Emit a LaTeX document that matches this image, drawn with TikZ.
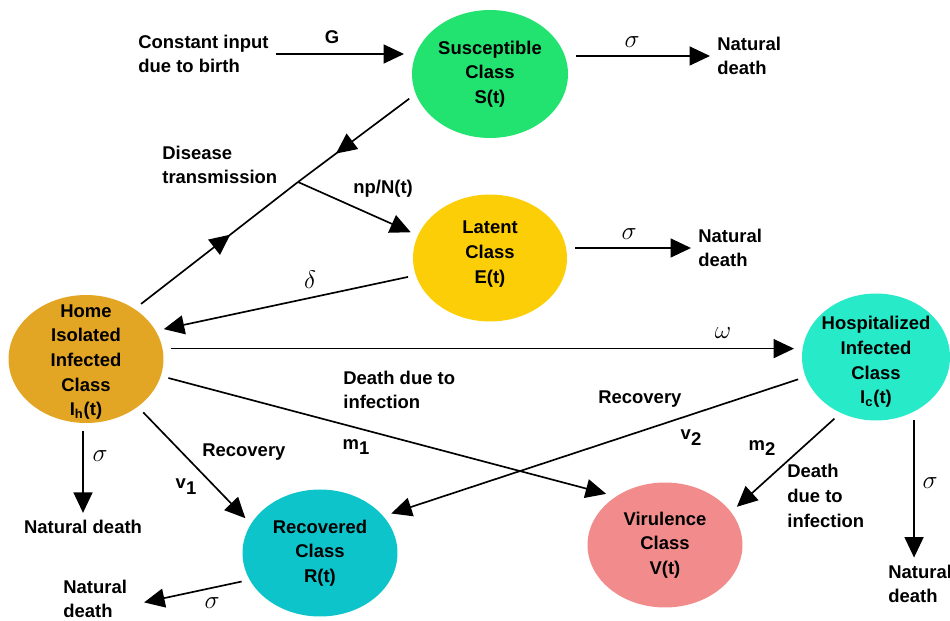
\documentclass[tikz,border=0pt]{standalone}
\usepackage{fontspec}
\setmainfont{Liberation Sans}
\usetikzlibrary{arrows.meta,shapes.geometric,decorations.markings}
\definecolor{cS}{RGB}{34,226,112}
\definecolor{cE}{RGB}{252,206,8}
\definecolor{cIh}{RGB}{226,166,36}
\definecolor{cIc}{RGB}{38,234,200}
\definecolor{cR}{RGB}{12,196,202}
\definecolor{cV}{RGB}{242,140,140}
\newcommand{\lowidx}[1]{\raisebox{-0.6ex}{#1}}
\tikzset{
  compart/.style={ellipse, inner sep=0pt, outer sep=0.16cm},
  inner/.style={align=center, inner sep=0pt},
  txt/.style={align=left, inner sep=4pt},
  greek/.style={font=\fontsize{14.5}{14}\selectfont, inner sep=1pt},
  arr/.style={-{Triangle[length=0.41cm,width=0.38cm]}, line width=0.95pt},
  midarr/.style={line width=0.95pt, decoration={markings,
    mark=at position #1 with {\arrow{Triangle[length=0.41cm,width=0.38cm]}}},
    postaction={decorate}}
}

\begin{document}
\begin{tikzpicture}[x=0.02cm, y=-0.02cm, font=\fontsize{10.5}{14}\selectfont\bfseries]
  \useasboundingbox (0,0) rectangle (950,621);

  % ---- compartments ----
  \node[compart, fill=cS, minimum width=3.12cm, minimum height=2.56cm,
    label={[inner, name=Stext]center:Susceptible\\Class\\S(t)}] (S) at (490,74) {};
  \node[compart, fill=cE, minimum width=3.08cm, minimum height=2.54cm,
    label={[inner, name=Etext, yshift=0.08cm]center:Latent\\Class\\E(t)}] (E) at (490,258) {};
  \node[compart, fill=cIh, minimum width=3.1cm, minimum height=2.56cm,
    label={[inner, name=Ihtext, yshift=-0.06cm]center:Home\\Isolated\\Infected\\Class\\I\textsubscript{h}(t)}] (Ih) at (86,359) {};
  \node[compart, fill=cIc, minimum width=2.96cm, minimum height=2.54cm,
    label={[inner, name=Ictext, yshift=-0.1cm]center:Hospitalized\\Infected\\Class\\I\textsubscript{c}(t)}] (Ic) at (876,357) {};
  \node[compart, fill=cR, minimum width=3.1cm, minimum height=2.54cm,
    label={[inner, name=Rtext]center:Recovered\\Class\\R(t)}] (R) at (320,553) {};
  \node[compart, fill=cV, minimum width=3.1cm, minimum height=2.5cm,
    label={[inner, name=Vtext]center:Virulence\\Class\\V(t)}] (V) at (665,545) {};

  % ---- free texts ----
  \node[txt, anchor=west] (birth) at (131,54) {Constant input\\due to birth};
  \node[txt] (Glbl) at (332,37) {G};
  \node[txt, anchor=west] (nd1) at (710,56) {Natural\\death};
  \node[greek] (sig1) at (632,42) {$\sigma$};
  \node[txt, anchor=west] (nd2) at (691,248) {Natural\\death};
  \node[greek] (sig2) at (629,234) {$\sigma$};
  \node[txt, anchor=west] (trans) at (155,165) {Disease\\transmission};
  \node[txt, anchor=west] (npN) at (346,189) {np/N(t)};
  \node[greek] (del) at (310,280) {$\delta$};
  \node[greek] (om) at (723,333) {$\omega$};
  \node[txt, anchor=west] (dd1) at (336,390) {Death due to\\infection};
  \node[txt] (mone) at (356,447) {m\lowidx{1}};
  \node[txt, anchor=west] (rec1) at (195,452) {Recovery};
  \node[txt] (vone) at (186,487) {v\lowidx{1}};
  \node[greek] (sig3) at (100,456) {$\sigma$};
  \node[txt] (nd3) at (83,527) {Natural death};
  \node[greek] (sig4) at (212,603) {$\sigma$};
  \node[txt, anchor=west] (nd4) at (56,599) {Natural\\death};
  \node[txt, anchor=west] (rec2) at (591,399) {Recovery};
  \node[txt] (vtwo) at (691,438) {v\lowidx{2}};
  \node[txt] (mtwo) at (762,448) {m\lowidx{2}};
  \node[txt, anchor=west] (dd2) at (780,496) {Death\\due to\\infection};
  \node[greek] (sig5) at (930,483) {$\sigma$};
  \node[txt, anchor=west] (nd5) at (881,584) {Natural\\death};

  % ---- flows ----
  \coordinate (junc) at (298,182);
  \draw[arr] (birth.east) -- (birth.east -| S.west);
  \draw[arr] (S.east |- nd1.west) -- (nd1.west);
  \draw[arr] (E.east |- nd2.west) -- (nd2.west);
  \draw[midarr=0.66] (S.197) -- (junc);
  \draw[midarr=0.57] (Ih.45) -- (junc);
  \draw[arr] (junc) -- (E.162);
  \draw[arr] (E.193) -- (Ih.21);
  \draw[arr] (Ih.7) -- (Ih.7 -| Ic.west);
  \draw[arr] (Ih.-13) -- (V.139);
  \draw[arr] (Ih.-43) -- (R.155);
  \draw[arr] (nd3.north |- Ih.south) -- (nd3.north);
  \draw[arr, shorten >=0.2cm] (R.200) -- (nd4.-8);
  \draw[arr] (Ic.196) -- (R.29);
  \draw[arr] (Ic.236) -- (V.28);
  \draw[arr] (Ic.-59) -- (Ic.-59 |- nd5.north);
\end{tikzpicture}
\end{document}
